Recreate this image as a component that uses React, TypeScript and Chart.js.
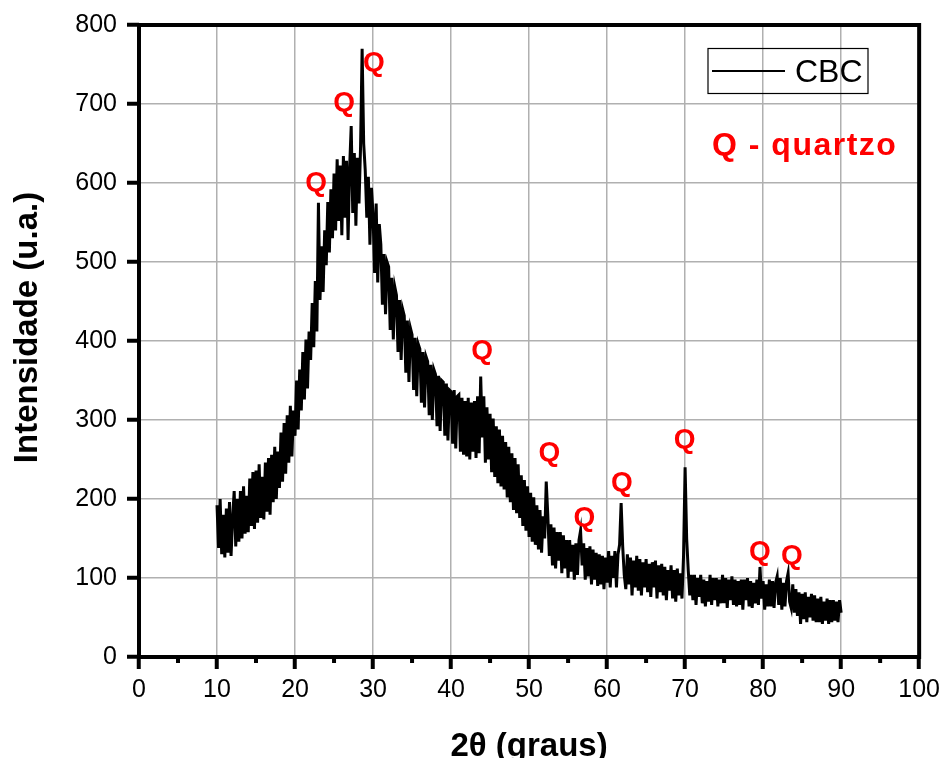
import React, { useEffect, useRef } from 'react';
import { Chart, registerables } from 'chart.js';

Chart.register(...registerables);

// ---- data ----
const angleStart = 10; // 2θ of first sample (graus)
const angleStep = 0.2; // sampling step (graus)

// Intensity (u.a.), one row per degree: x.0, x.2, x.4, x.6, x.8
const intensity = [
  192, 138, 200, 130, 180, // 10
  126, 188, 132, 196, 128, // 11
  176, 210, 140, 200, 146, // 12
  210, 150, 216, 156, 204, // 13
  158, 226, 166, 234, 162, // 14
  236, 170, 244, 176, 228, // 15
  174, 246, 184, 252, 180, // 16
  256, 196, 266, 200, 260, // 17
  214, 284, 222, 296, 232, // 18
  306, 246, 318, 254, 312, // 19
  280, 350, 288, 364, 312, // 20
  386, 326, 402, 340, 412, // 21
  376, 448, 392, 476, 412, // 22
  575, 452, 520, 462, 540, // 23
  496, 576, 512, 592, 530, // 24
  612, 540, 630, 552, 622, // 25
  534, 634, 556, 628, 528, // 26
  620, 672, 562, 638, 546, // 27
  632, 574, 646, 770, 650, // 28
  616, 556, 608, 522, 594, // 29
  560, 486, 574, 474, 548, // 30
  522, 446, 510, 434, 500, // 31
  494, 414, 480, 402, 468, // 32
  458, 386, 452, 376, 440, // 33
  432, 360, 426, 348, 416, // 34
  408, 338, 404, 330, 396, // 35
  390, 322, 386, 316, 380, // 36
  374, 306, 370, 300, 364, // 37
  358, 292, 356, 286, 350, // 38
  348, 280, 346, 274, 338, // 39
  336, 270, 338, 264, 330, // 40
  332, 260, 328, 256, 324, // 41
  254, 328, 250, 322, 260, // 42
  324, 252, 330, 258, 355, // 43
  278, 330, 246, 316, 250, // 44
  308, 234, 302, 228, 292, // 45
  220, 288, 216, 280, 212, // 46
  272, 202, 266, 196, 258, // 47
  186, 252, 182, 244, 176, // 48
  230, 166, 224, 160, 216, // 49
  152, 208, 146, 202, 142, // 50
  192, 136, 186, 132, 178, // 51
  150, 222, 180, 128, 168, // 52
  116, 164, 112, 158, 122, // 53
  158, 106, 154, 112, 148, // 54
  100, 148, 108, 142, 98, // 55
  144, 104, 148, 160, 116, // 56
  144, 98, 138, 102, 140, // 57
  92, 136, 98, 132, 90, // 58
  130, 92, 128, 86, 126, // 59
  94, 134, 88, 128, 100, // 60
  134, 88, 130, 142, 195, // 61
  140, 104, 86, 130, 92, // 62
  126, 78, 122, 88, 128, // 63
  84, 124, 78, 120, 88, // 64
  124, 82, 118, 76, 120, // 65
  88, 122, 74, 116, 82, // 66
  118, 78, 114, 72, 110, // 67
  84, 116, 74, 110, 70, // 68
  112, 78, 106, 74, 128, // 69
  240, 150, 110, 78, 104, // 70
  72, 104, 66, 100, 76, // 71
  104, 68, 98, 64, 96, // 72
  70, 104, 66, 100, 72, // 73
  100, 64, 98, 68, 104, // 74
  68, 100, 62, 98, 72, // 75
  102, 66, 98, 64, 96, // 76
  66, 98, 60, 98, 72, // 77
  100, 64, 96, 62, 94, // 78
  68, 98, 66, 114, 74, // 79
  96, 60, 92, 64, 98, // 80
  64, 96, 62, 94, 102, // 81
  66, 100, 60, 94, 64, // 82
  96, 106, 70, 62, 92, // 83
  56, 86, 52, 82, 42, // 84
  80, 48, 82, 44, 76, // 85
  50, 80, 46, 78, 44, // 86
  74, 44, 76, 42, 70, // 87
  46, 74, 42, 72, 44, // 88
  72, 46, 70, 44, 72, // 89
  56, // 90
];

// Quartz reflection markers (label positions in data units)
const quartzLabelX = [22.7, 26.3, 30.1, 44.0, 52.6, 57.1, 61.9, 69.95, 79.6, 83.7];
const quartzLabelY = [602, 704, 754, 390, 261, 178, 223, 277, 135, 130];
const quartzMark = 'Q';

const xMinorTicks = [5, 15, 25, 35, 45, 55, 65, 75, 85, 95];

const seriesName = 'CBC';
const noteText = 'Q - quartzo';
const xTitle = '2θ (graus)';
const yTitle = 'Intensidade (u.a.)';

const FONT = '"Liberation Sans", Arial, Helvetica, sans-serif';

export default function App() {
  const ref = useRef<HTMLCanvasElement>(null);

  useEffect(() => {
    document.body.style.margin = '0';
    const canvas = ref.current;
    if (!canvas) return;

    const points = intensity.map((v, i) => ({
      x: Math.round((angleStart + i * angleStep) * 100) / 100,
      y: v,
    }));

    const overlay = {
      id: 'overlay',
      afterDraw(chart: any) {
        const { ctx, chartArea: a, scales } = chart;
        const xs = scales.x;
        const ys = scales.y;
        ctx.save();

        // minor x ticks
        ctx.strokeStyle = '#000';
        ctx.lineWidth = 4;
        ctx.lineCap = 'butt';
        xMinorTicks.forEach((v) => {
          const px = xs.getPixelForValue(v);
          ctx.beginPath();
          ctx.moveTo(px, a.bottom);
          ctx.lineTo(px, a.bottom + 6);
          ctx.stroke();
        });

        // frame
        ctx.lineWidth = 4;
        ctx.strokeRect(a.left, a.top, a.right - a.left, a.bottom - a.top);

        // legend
        ctx.lineWidth = 1.2;
        ctx.strokeRect(708, 48.5, 160, 45);
        ctx.lineWidth = 2;
        ctx.beginPath();
        ctx.moveTo(712, 71);
        ctx.lineTo(785, 71);
        ctx.stroke();
        ctx.fillStyle = '#000';
        ctx.font = `32px ${FONT}`;
        ctx.textAlign = 'left';
        ctx.textBaseline = 'alphabetic';
        ctx.fillText(seriesName, 795, 82);

        // note
        ctx.fillStyle = '#ff0000';
        ctx.font = `bold 32px ${FONT}`;
        (ctx as any).letterSpacing = '1.5px';
        ctx.fillText(noteText, 712, 155);
        (ctx as any).letterSpacing = '0px';

        // Q markers
        ctx.font = `bold 28px ${FONT}`;
        ctx.textAlign = 'center';
        quartzLabelX.forEach((xv, i) => {
          const px = xs.getPixelForValue(xv);
          const py = ys.getPixelForValue(quartzLabelY[i]);
          ctx.fillText(quartzMark, px, py + 10);
        });

        // axis titles
        ctx.fillStyle = '#000';
        ctx.font = `bold 33px ${FONT}`;
        ctx.textAlign = 'center';
        ctx.fillText(xTitle, (a.left + a.right) / 2, 756);

        ctx.save();
        ctx.translate(37, 327.5);
        ctx.rotate(-Math.PI / 2);
        ctx.fillText(yTitle, 0, 0);
        ctx.restore();

        ctx.restore();
      },
    };

    const gridCommon = {
      color: '#b0b0b0',
      lineWidth: 1.5,
      tickColor: '#000',
      tickWidth: 4,
      tickLength: 12,
    };

    const chart = new Chart(canvas, {
      type: 'line',
      data: {
        datasets: [
          {
            label: seriesName,
            data: points,
            borderColor: '#000',
            borderWidth: 3,
            borderJoinStyle: 'miter',
            pointRadius: 0,
            tension: 0,
            fill: false,
          },
        ],
      },
      options: {
        animation: false,
        responsive: false,
        devicePixelRatio: 1,
        layout: { padding: { top: 25, right: 25, left: 0, bottom: 0 } },
        plugins: {
          legend: { display: false },
          tooltip: { enabled: false },
        },
        scales: {
          x: {
            type: 'linear',
            min: 0,
            max: 100,
            afterFit: (s: any) => {
              s.height = 101;
            },
            ticks: {
              stepSize: 10,
              color: '#000',
              font: { family: FONT, size: 25 },
              padding: 6,
              maxRotation: 0,
              autoSkip: false,
            },
            grid: gridCommon,
            border: { display: false },
          },
          y: {
            type: 'linear',
            min: 0,
            max: 800,
            afterFit: (s: any) => {
              s.width = 139;
            },
            ticks: {
              stepSize: 100,
              color: '#000',
              font: { family: FONT, size: 25 },
              padding: 10,
            },
            grid: gridCommon,
            border: { display: false },
          },
        },
      } as any,
      plugins: [overlay],
    });

    return () => chart.destroy();
  }, []);

  return (
    <div style={{ width: 946, height: 758 }}>
      <canvas ref={ref} width={946} height={758} style={{ display: 'block' }} />
    </div>
  );
}
